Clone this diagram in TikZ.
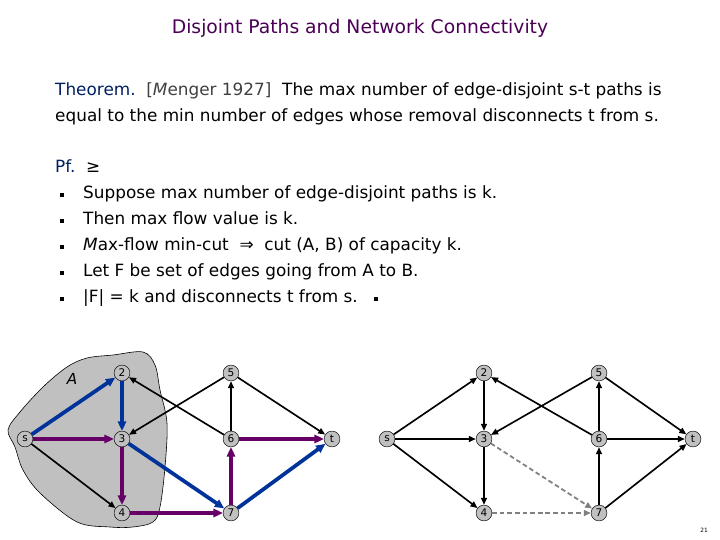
\documentclass[tikz,border=0pt]{standalone}
\usepackage{fontspec}
\setmainfont{DejaVu Sans}
\usetikzlibrary{arrows.meta,positioning}
\definecolor{pathblue}{RGB}{0,51,153}
\definecolor{pathpurple}{RGB}{102,0,102}
\definecolor{titlepurple}{RGB}{75,0,85}
\definecolor{headblue}{RGB}{0,32,96}
\definecolor{blobgray}{RGB}{192,192,192}
\tikzset{
	vert/.style={draw,circle,fill=blobgray,inner sep=0pt,minimum size=13.5pt,font=\fontsize{9}{9}\selectfont},
	arc/.style={-{Triangle[length=6pt,width=5pt]},line width=1.4pt},
	bluearc/.style={-{Triangle[length=8pt,width=7pt]},line width=3.2pt,pathblue},
	purparc/.style={-{Triangle[length=8pt,width=7pt]},line width=2.6pt,pathpurple},
	cutarc/.style={-{Triangle[length=6pt,width=5pt]},line width=1.5pt,gray,dash pattern=on 4pt off 2.5pt},
	txt/.style={anchor=base west,inner sep=0pt,font=\fontsize{14.4}{15}\selectfont},
	sq/.style={fill,inner sep=0pt,minimum size=2.6pt}
}
\begin{document}
\begin{tikzpicture}[x=0.03cm,y=-0.03cm]
	\useasboundingbox (0,0) rectangle (720,540);
	% title and text
	\node[anchor=base,inner sep=0pt,titlepurple,font=\fontsize{16}{16}\selectfont] (title) at (360,34) {Disjoint Paths and Network Connectivity};
	\node[txt] (thm1) at (55,96) {\textcolor{headblue}{Theorem.}\ \ \textcolor{darkgray}{[\textit{M}enger 1927]}\ \ The max number of edge-disjoint s-t paths is};
	\node[txt] (thm2) at (55,122) {equal to the min number of edges whose removal disconnects t from s.};
	\node[txt] (pf) at (55,173) {\textcolor{headblue}{Pf.}\ \ ≥};
	\node[txt] (b1) at (83,199) {Suppose max number of edge-disjoint paths is k.};
	\node[txt] (b2) at (83,225) {Then max flow value is k.};
	\node[txt] (b3) at (83,251) {\textit{M}ax-flow min-cut \ ⇒ \ cut (A, B) of capacity k.};
	\node[txt] (b4) at (83,277) {Let F be set of edges going from A to B.};
	\node[txt] (b5) at (83,303) {|F| = k and disconnects t from s.};
	\node[sq] (d1) at (62,195) {};
	\node[sq] (d2) at (62,221) {};
	\node[sq] (d3) at (62,247) {};
	\node[sq] (d4) at (62,273) {};
	\node[sq] (d5) at (62,299) {};
	\node[sq] (qed) at (376,299) {};
	\node[font=\fontsize{5}{5}\selectfont] (page) at (704,530) {21};

	% cut A
	\filldraw[fill=blobgray,draw=black,line width=0.5pt] plot[smooth cycle,tension=0.55] coordinates {
		(8,430) (20,412) (43,387) (67,367) (87,358) (113,355) (143,352) (155,365) (160,390)
		(167,423) (165,467) (160,507) (153,522) (133,527) (110,527) (77,522) (40,493) (23,470) (15,447)};
	\node[font=\fontsize{13}{13}\selectfont\itshape] (setA) at (72,379) {A};

	% left network
	\node[vert] (ls) at (25,439) {s};
	\node[vert] (l2) at (122,373) {2};
	\node[vert] (l3) at (122,439) {3};
	\node[vert] (l4) at (122,513) {4};
	\node[vert] (l5) at (231,373) {5};
	\node[vert] (l6) at (231,439) {6};
	\node[vert] (l7) at (231,513) {7};
	\node[vert] (lt) at (332,439) {t};
	\draw[arc] (ls) -- (l4);
	\draw[arc] (l6) -- (l2);
	\draw[arc] (l5) -- (l3);
	\draw[arc] (l6) -- (l5);
	\draw[arc] (l5) -- (lt);
	\draw[purparc] (ls) -- (l3);
	\draw[purparc] (l3) -- (l4);
	\draw[purparc] (l4) -- (l7);
	\draw[purparc] (l7) -- (l6);
	\draw[purparc] (l6) -- (lt);
	\draw[bluearc] (ls) -- (l2);
	\draw[bluearc] (l2) -- (l3);
	\draw[bluearc] (l3) -- (l7);
	\draw[bluearc] (l7) -- (lt);

	% right network
	\node[vert] (rs) at (387,439) {s};
	\node[vert] (r2) at (484,373) {2};
	\node[vert] (r3) at (484,439) {3};
	\node[vert] (r4) at (484,513) {4};
	\node[vert] (r5) at (599,373) {5};
	\node[vert] (r6) at (599,439) {6};
	\node[vert] (r7) at (599,513) {7};
	\node[vert] (rt) at (693,439) {t};
	\draw[arc] (rs) -- (r2);
	\draw[arc] (rs) -- (r3);
	\draw[arc] (rs) -- (r4);
	\draw[arc] (r2) -- (r3);
	\draw[arc] (r3) -- (r4);
	\draw[arc] (r6) -- (r2);
	\draw[arc] (r5) -- (r3);
	\draw[arc] (r6) -- (r5);
	\draw[arc] (r5) -- (rt);
	\draw[arc] (r6) -- (rt);
	\draw[arc] (r7) -- (r6);
	\draw[arc] (r7) -- (rt);
	\draw[cutarc] (r3) -- (r7);
	\draw[cutarc] (r4) -- (r7);
\end{tikzpicture}
\end{document}
